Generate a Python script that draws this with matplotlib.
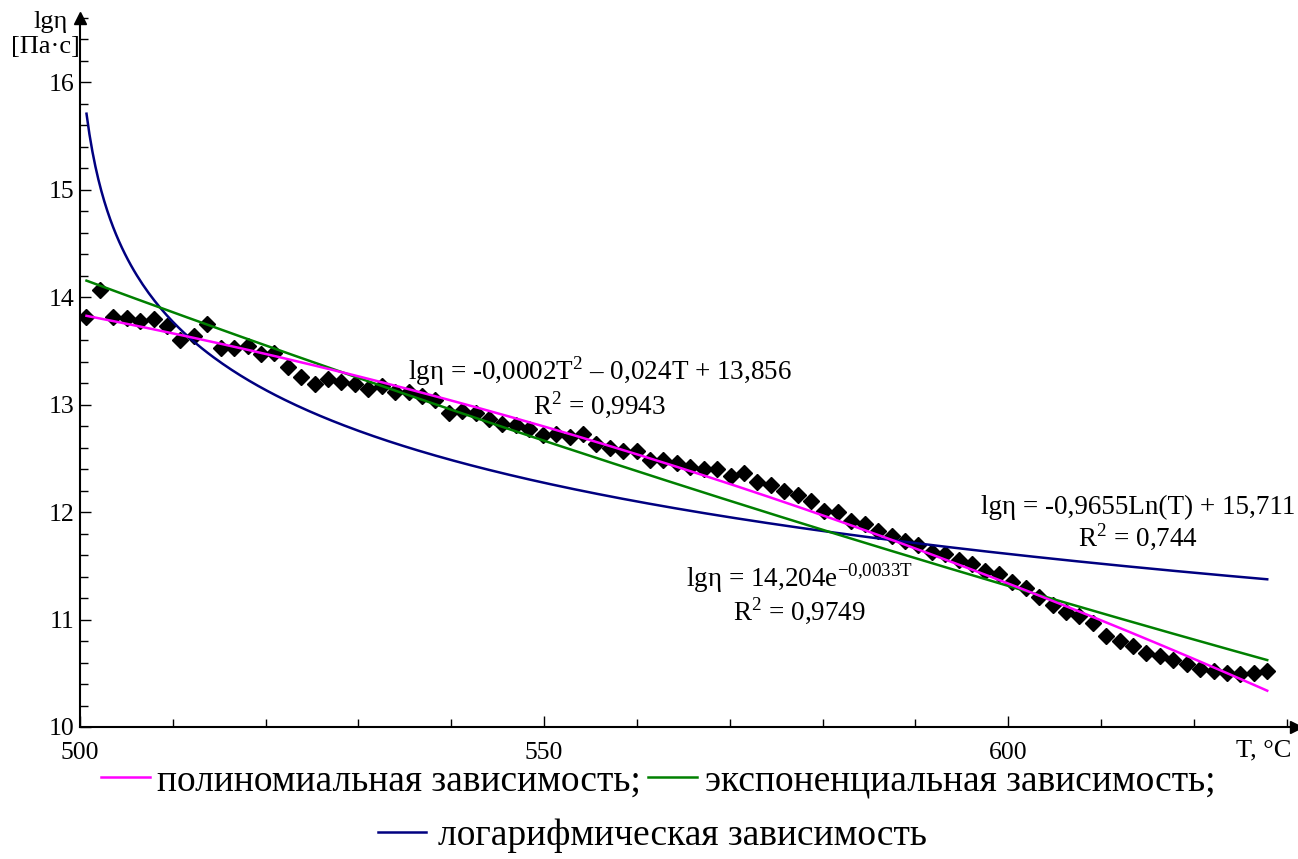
import numpy as np
import matplotlib
matplotlib.use("Agg")
import matplotlib.pyplot as plt
from matplotlib.ticker import MultipleLocator

plt.rcParams['font.family'] = ['Liberation Serif', 'DejaVu Serif']
plt.rcParams['mathtext.fontset'] = 'custom'
plt.rcParams['mathtext.rm'] = 'Liberation Serif'

# измеренные значения lgη (по точкам графика)
lg_eta = [13.82, 14.07, 13.82, 13.81, 13.78, 13.80, 13.73, 13.60, 13.64, 13.75,
          13.53, 13.53, 13.55, 13.47, 13.48, 13.35, 13.26, 13.19, 13.24, 13.21,
          13.19, 13.15, 13.17, 13.12, 13.12, 13.08, 13.04, 12.92, 12.94, 12.92,
          12.87, 12.82, 12.81, 12.77, 12.72, 12.73, 12.70, 12.73, 12.63, 12.60,
          12.57, 12.57, 12.49, 12.49, 12.46, 12.42, 12.40, 12.40, 12.34, 12.36,
          12.28, 12.25, 12.20, 12.16, 12.10, 12.01, 12.00, 11.92, 11.89, 11.82,
          11.78, 11.73, 11.69, 11.63, 11.61, 11.55, 11.52, 11.45, 11.42, 11.35,
          11.29, 11.21, 11.14, 11.07, 11.03, 10.97, 10.85, 10.80, 10.75, 10.69,
          10.66, 10.62, 10.59, 10.54, 10.52, 10.50, 10.49, 10.50, 10.52]
T_start, T_end = 500.7, 627.9

eq_poly = "lgη = -0,0002T$^{\\mathregular{2}}$ – 0,024T + 13,856\nR$^{\\mathregular{2}}$ = 0,9943"
eq_exp = "lgη = 14,204e$^{\\mathregular{-0{,}0033T}}$\nR$^{\\mathregular{2}}$ = 0,9749"
eq_log = "lgη = -0,9655Ln(T) + 15,711\nR$^{\\mathregular{2}}$ = 0,744"
leg_labels = ["полиномиальная зависимость;", "экспоненциальная зависимость;",
              "логарифмическая зависимость"]

y = np.array(lg_eta)
n = np.arange(1, len(y) + 1)
T = np.linspace(T_start, T_end, len(y))

# линии тренда как в Excel (x = номер точки)
nf = np.linspace(1, n[-1], 400)
Tf = np.interp(nf, n, T)
p2 = np.polyfit(n, y, 2)
pl = np.polyfit(np.log(n), y, 1)
pe = np.polyfit(n, np.log(y), 1)
y_poly = np.polyval(p2, nf)
y_log = np.polyval(pl, np.log(nf))
y_exp = np.exp(np.polyval(pe, nf))

fig = plt.figure(figsize=(12.98, 8.59), dpi=100)
ax = fig.add_axes([80 / 1298, 1 - 727 / 859, 1216 / 1298, 709 / 859])

ax.plot(T, y, 'D', color='black', ms=8, zorder=2)
l_log, = ax.plot(Tf, y_log, color='#000080', lw=1.8, zorder=3, label=leg_labels[2])
l_exp, = ax.plot(Tf, y_exp, color='#008000', lw=1.8, zorder=4, label=leg_labels[1])
l_poly, = ax.plot(Tf, y_poly, color='#FF00FF', lw=1.8, zorder=5, label=leg_labels[0])

ax.set_xlim(500, 631)
ax.set_ylim(10, 16.6)
ax.spines['top'].set_visible(False)
ax.spines['right'].set_visible(False)
for s in ['left', 'bottom']:
    ax.spines[s].set_linewidth(1.5)
ax.plot(1, 0, '>k', ms=9, transform=ax.transAxes, clip_on=False)
ax.plot(0, 1, '^k', ms=9, transform=ax.transAxes, clip_on=False)

ax.set_xticks([500, 550, 600])
ax.set_yticks([10, 11, 12, 13, 14, 15, 16])
ax.xaxis.set_minor_locator(MultipleLocator(10))
ax.yaxis.set_minor_locator(MultipleLocator(0.2))
ax.tick_params(which='both', direction='in', width=1, labelsize=18.5)
ax.tick_params(which='major', length=8)
ax.tick_params(which='minor', length=6)
ax.tick_params(axis='x', pad=11)
ax.tick_params(axis='y', pad=4)

kw = dict(fontsize=19.5, ha='center', va='center', multialignment='center', linespacing=1.05)
ax.text(556.0, 13.16, eq_poly, **kw)
ax.text(577.5, 11.24, eq_exp, **kw)
ax.text(614.0, 11.89, eq_log, **kw)

fig.text(68 / 1298, 1 - 22 / 859, "lgη", fontsize=19, ha='right', va='center')
fig.text(80 / 1298, 1 - 47 / 859, "[Па·с]", fontsize=19, ha='right', va='center')
fig.text(1291 / 1298, 1 - 750 / 859, "T, °C", fontsize=19, ha='right', va='center')

fig.legend(handles=[l_poly, l_exp], loc='center', bbox_to_anchor=(658 / 1298, 1 - 781 / 859),
           ncol=2, frameon=False, fontsize=27, handlelength=1.3, handletextpad=0.2,
           columnspacing=0.2, borderpad=0)
fig.legend(handles=[l_log], loc='center', bbox_to_anchor=(652 / 1298, 1 - 836 / 859),
           frameon=False, fontsize=27, handlelength=1.3, handletextpad=0.3, borderpad=0)

fig.savefig("out.png", dpi=100)
